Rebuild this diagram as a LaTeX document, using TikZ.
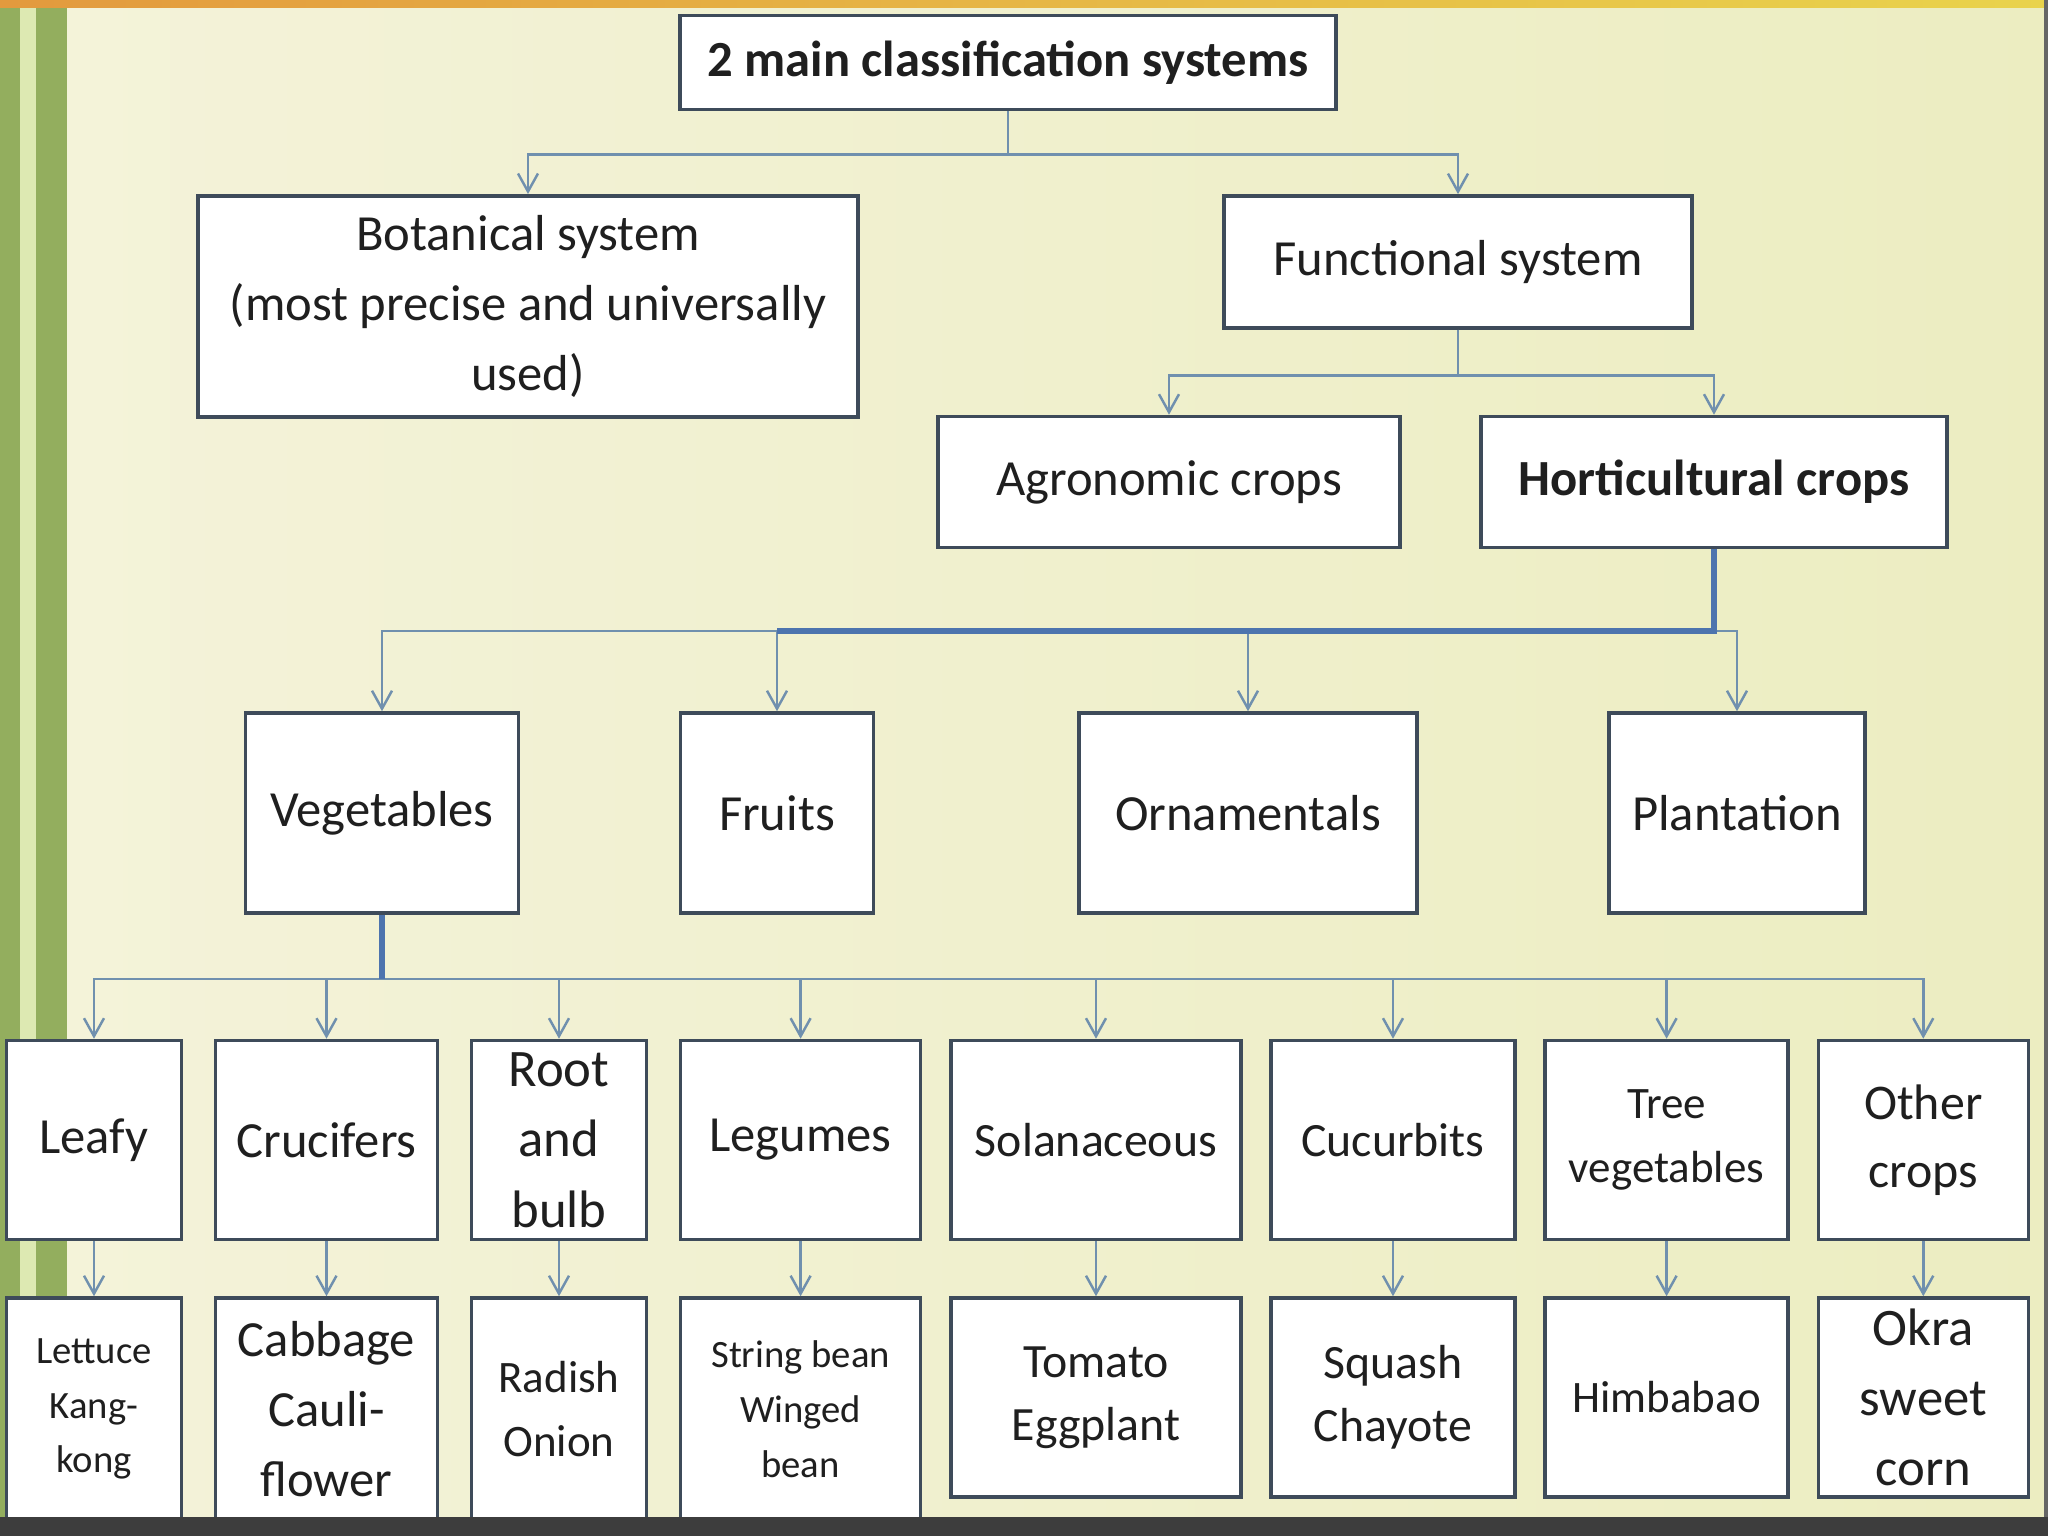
\documentclass[tikz,border=0pt]{standalone}
\usepackage{fontspec}
\setmainfont{Carlito}
\usepackage{tikz}
\usetikzlibrary{positioning,
                calc,
                arrows.meta}
\definecolor{paperlight}{HTML}{F4F3DA}
\definecolor{paperdark}{HTML}{ECEDC1}
\definecolor{stripegreen}{HTML}{93AE5E}
\definecolor{stripelight}{HTML}{DDE9B2}
\definecolor{boxline}{HTML}{3E4B5A}
\definecolor{linkblue}{HTML}{7090AE}
\definecolor{trunkblue}{HTML}{4D74AE}
\definecolor{barorange}{HTML}{E39A3E}
\definecolor{baryellow}{HTML}{E9D34C}
\definecolor{footgray}{HTML}{3D3D3D}

\begin{document}
\begin{tikzpicture}[x=1cm,y=1cm]

\tikzset{
cropbox/.style={
draw=boxline,
fill=white,
line width=1pt,
inner sep=1pt,
align=center,
text=black!88,
font=\fontsize{14.4}{20}\selectfont
},
largetext/.style={font=\fontsize{15}{20}\selectfont},
midtext/.style={font=\fontsize{13.6}{17.8}\selectfont},
smalltext/.style={font=\fontsize{12.8}{18.2}\selectfont},
tinytext/.style={font=\fontsize{11}{15.6}\selectfont},
link/.style={
draw=linkblue,
line width=0.7pt,
-{Straight Barb[length=1.8mm,width=2mm]}
},
trunk/.style={
draw=trunkblue,
line width=1.6pt
}
}

\useasboundingbox (0,0) rectangle (20.48,-15.36);

%--------------------------------------------------
% BACKGROUND
%--------------------------------------------------

\shade[left color=paperlight,right color=paperdark] (0,0) rectangle (20.48,-15.36);
\shade[left color=barorange,right color=baryellow] (0,0) rectangle (20.48,-0.08);
\fill[stripegreen] (0,-0.08) rectangle (0.20,-15.36);
\fill[stripelight] (0.20,-0.08) rectangle (0.36,-15.36);
\fill[stripegreen] (0.36,-0.08) rectangle (0.67,-15.36);
\fill[black!60] (20.44,0) rectangle (20.48,-15.36);

%--------------------------------------------------
% SYSTEMS
%--------------------------------------------------

\node[cropbox,minimum width=6.56cm,minimum height=0.94cm,font=\fontsize{14.4}{20}\selectfont\bfseries]
(title) at (10.08,-0.627) {2 main classification systems};

\node[cropbox,minimum width=6.60cm,minimum height=2.21cm]
(botanical) at (5.28,-3.063)
{Botanical system\\(most precise and universally\\used)};

\node[cropbox,minimum width=4.68cm,minimum height=1.32cm]
(functional) at (14.58,-2.619) {Functional system};

\node[cropbox,minimum width=4.62cm,minimum height=1.31cm]
(agronomic) at (11.69,-4.82) {Agronomic crops};

\node[cropbox,minimum width=4.66cm,minimum height=1.31cm,font=\fontsize{14.4}{20}\selectfont\bfseries]
(horti) at (17.14,-4.82) {Horticultural crops};

%--------------------------------------------------
% HORTICULTURAL GROUPS
%--------------------------------------------------

\node[cropbox,minimum width=2.73cm,minimum height=2.00cm] (veg) at (3.82,-8.13) {Vegetables};
\node[cropbox,minimum width=1.93cm,minimum height=2.00cm] (fruits) at (7.77,-8.13) {Fruits};
\node[cropbox,minimum width=3.38cm,minimum height=2.00cm] (ornam) at (12.48,-8.13) {Ornamentals};
\node[cropbox,minimum width=2.56cm,minimum height=2.00cm] (plant) at (17.37,-8.13) {Plantation};

%--------------------------------------------------
% VEGETABLE GROUPS
%--------------------------------------------------

\node[cropbox,minimum width=1.75cm,minimum height=1.99cm] (leafy) at (0.94,-11.40) {Leafy};
\node[cropbox,minimum width=2.22cm,minimum height=1.99cm] (cruci) at (3.265,-11.40) {Crucifers};
\node[cropbox,largetext,minimum width=1.75cm,minimum height=1.99cm] (root) at (5.59,-11.40) {Root\\and\\bulb};
\node[cropbox,minimum width=2.40cm,minimum height=1.99cm] (legume) at (8.006,-11.40) {Legumes};
\node[cropbox,midtext,minimum width=2.90cm,minimum height=1.99cm] (solan) at (10.96,-11.40) {Solanaceous};
\node[cropbox,midtext,minimum width=2.44cm,minimum height=1.99cm] (cucurb) at (13.93,-11.40) {Cucurbits};
\node[cropbox,smalltext,minimum width=2.43cm,minimum height=1.99cm] (treeveg) at (16.666,-11.40) {Tree\\vegetables};
\node[cropbox,minimum width=2.10cm,minimum height=1.99cm,font=\fontsize{14.2}{19.3}\selectfont] (other) at (19.233,-11.40) {Other\\crops};

%--------------------------------------------------
% EXAMPLES
%--------------------------------------------------

\node[cropbox,tinytext,minimum width=1.75cm,minimum height=2.22cm] (lettuce) at (0.94,-14.09) {Lettuce\\Kang-\\kong};
\node[cropbox,minimum width=2.22cm,minimum height=2.22cm] (cabbage) at (3.265,-14.09) {Cabbage\\Cauli-\\flower};
\node[cropbox,smalltext,minimum width=1.75cm,minimum height=2.22cm] (radish) at (5.59,-14.09) {Radish\\Onion};
\node[cropbox,tinytext,minimum width=2.40cm,minimum height=2.22cm] (stringbean) at (8.006,-14.09) {String bean\\Winged\\bean};
\node[cropbox,midtext,minimum width=2.90cm,minimum height=1.99cm] (tomato) at (10.96,-13.975) {Tomato\\Eggplant};
\node[cropbox,midtext,minimum width=2.44cm,minimum height=1.99cm] (squash) at (13.93,-13.975) {Squash\\Chayote};
\node[cropbox,smalltext,minimum width=2.43cm,minimum height=1.99cm] (himbabao) at (16.666,-13.975) {Himbabao};
\node[cropbox,largetext,minimum width=2.10cm,minimum height=1.99cm] (okra) at (19.233,-13.975) {Okra\\sweet\\corn};

%--------------------------------------------------
% CONNECTORS
%--------------------------------------------------

\draw[link] (title.south) -- ++(0,-0.43) -| (botanical.north);
\draw[link] (title.south) -- ++(0,-0.43) -| (functional.north);

\draw[link] (functional.south) -- ++(0,-0.457) -| (agronomic.north);
\draw[link] (functional.south) -- ++(0,-0.457) -| (horti.north);

\coordinate (hortibar) at ($(horti.south)+(0,-0.82)$);
\draw[link] (hortibar) -| (veg.north);
\draw[link] (hortibar) -| (fruits.north);
\draw[link] (hortibar) -| (ornam.north);
\draw[link] (hortibar) -| (plant.north);
\draw[trunk] (horti.south) -- (hortibar) -- (fruits.north |- hortibar);

\coordinate (vegbar) at ($(veg.south)+(0,-0.64)$);
\draw[link] (vegbar) -| (leafy.north);
\draw[link] (vegbar) -| (cruci.north);
\draw[link] (vegbar) -| (root.north);
\draw[link] (vegbar) -| (legume.north);
\draw[link] (vegbar) -| (solan.north);
\draw[link] (vegbar) -| (cucurb.north);
\draw[link] (vegbar) -| (treeveg.north);
\draw[link] (vegbar) -| (other.north);
\draw[trunk] (veg.south) -- (vegbar);

\draw[link] (leafy.south) -- (lettuce.north);
\draw[link] (cruci.south) -- (cabbage.north);
\draw[link] (root.south) -- (radish.north);
\draw[link] (legume.south) -- (stringbean.north);
\draw[link] (solan.south) -- (tomato.north);
\draw[link] (cucurb.south) -- (squash.north);
\draw[link] (treeveg.south) -- (himbabao.north);
\draw[link] (other.south) -- (okra.north);

%--------------------------------------------------
% FOOTER
%--------------------------------------------------

\fill[footgray] (0,-15.17) rectangle (20.48,-15.36);

\end{tikzpicture}
\end{document}
